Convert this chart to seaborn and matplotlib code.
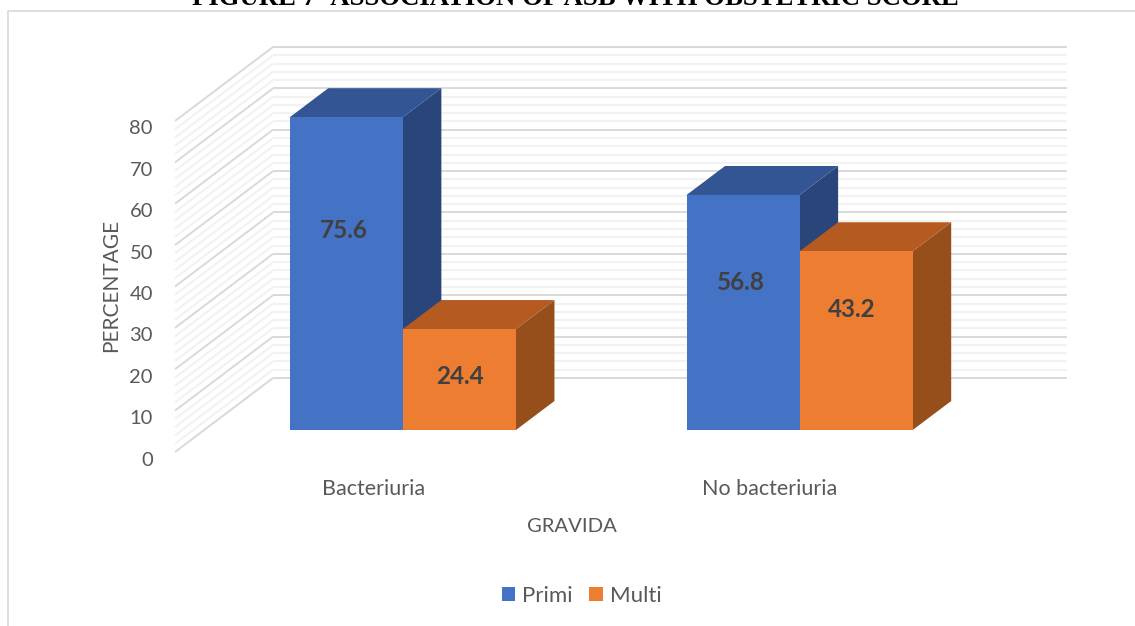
import matplotlib
matplotlib.use("Agg")
import matplotlib.pyplot as plt
import matplotlib.transforms as mtransforms
from matplotlib.patches import Polygon
import numpy as np
import pandas as pd
import seaborn as sns

# values
categories = ["Bacteriuria", "No bacteriuria"]
primi = [75.6, 56.8]
multi = [24.4, 43.2]
series_names = ["Primi", "Multi"]
y_ticks = [0, 10, 20, 30, 40, 50, 60, 70, 80]

front_colors = ["#4472C4", "#ED7D31"]
top_colors = ["#335593", "#B55A20"]
side_colors = ["#2A4579", "#964F1B"]

W, H = 1135, 626

sns.set_theme(style="white")
plt.rcParams["font.family"] = ["Lato", "DejaVu Sans"]

df = pd.DataFrame({
    "category": categories * 2,
    "series": [series_names[0]] * 2 + [series_names[1]] * 2,
    "value": primi + multi,
})

fig = plt.figure(figsize=(W / 100, H / 100), dpi=100)
fig.patch.set_facecolor("white")

# front plane of the bars, in pixels of the picture
left, right, bottom, top = 204.5, 998, 430, 99
ax = fig.add_axes([left / W, 1 - bottom / H, (right - left) / W, (bottom - top) / H])
ax.patch.set_alpha(0)

sns.barplot(data=df, x="category", y="value", hue="series", hue_order=series_names,
            order=categories, palette=front_colors, saturation=1, width=0.57, gap=0,
            linewidth=0, ax=ax, zorder=5)
ax.set_xlim(-0.5, 1.5)
ax.set_ylim(0, 80)
sns.despine(ax=ax, left=True, bottom=True)

px_x = (right - left) / 2
px_y = (bottom - top) / 80

# side wall and back wall grid
x0, x1 = ax.get_xlim()
for v in range(0, 81, 2):
    major = v % 10 == 0
    color = "#D9D9D9" if major else "#F2F2F2"
    lw = 1.4 if major else 1.5
    wall_x = [x0 - 29.5 / px_x, x0 + 68.5 / px_x]
    wall_y = [v - 22 / px_y, v + 52 / px_y]
    ax.plot(wall_x, wall_y, color=color, lw=lw, clip_on=False, zorder=1 + major * 0.5,
            solid_capstyle="butt")
    ax.plot([x0 + 68.5 / px_x, x1 + 68.5 / px_x], [v + 52 / px_y] * 2, color=color, lw=lw,
            clip_on=False, zorder=1 + major * 0.5, solid_capstyle="butt")

# depth of the bars
depth_x = 38.5 / px_x
depth_y = 29 / px_y
for i, cont in enumerate(ax.containers):
    for bar in cont:
        a = bar.get_x()
        b = a + bar.get_width()
        h = bar.get_height()
        side = Polygon([(b, 0), (b, h), (b + depth_x, h + depth_y), (b + depth_x, depth_y)],
                       closed=True, fc=side_colors[i], ec="none", clip_on=False, zorder=3 + i)
        roof = Polygon([(a, h), (b, h), (b + depth_x, h + depth_y), (a + depth_x, h + depth_y)],
                       closed=True, fc=top_colors[i], ec="none", clip_on=False, zorder=3 + i)
        ax.add_patch(side)
        ax.add_patch(roof)

# data labels sit off-centre in the reference, offsets in pixels
label_shift = [[(-3, 43), (-2, 30)], [(1, 3), (-4, 31)]]
for i, cont in enumerate(ax.containers):
    for j, bar in enumerate(cont):
        ax.annotate(f"{bar.get_height():.1f}",
                    (bar.get_x() + bar.get_width() / 2, bar.get_height() / 2),
                    xytext=label_shift[i][j], textcoords="offset pixels",
                    ha="center", va="center", fontsize=17.5, fontweight="bold",
                    color="#404040", zorder=8)

# ticks
ax.set_yticks(y_ticks)
ax.set_xticks([0, 1])
ax.set_xticklabels(categories)
ax.tick_params(axis="both", length=0, pad=0)
for lab in ax.get_yticklabels():
    lab.set_fontsize(14.5)
    lab.set_color("#595959")
    lab.set_transform(lab.get_transform() + mtransforms.Affine2D().translate(-51.5, -28.5))
for lab in ax.get_xticklabels():
    lab.set_fontsize(15.5)
    lab.set_color("#595959")
    lab.set_transform(lab.get_transform() + mtransforms.Affine2D().translate(-29.5, -49))

ax.set_xlabel("GRAVIDA", fontsize=14.6, color="#595959")
ax.set_ylabel("PERCENTAGE", fontsize=15, color="#595959")
ax.xaxis.set_label_coords(571.5 / W, 1 - 527 / H, transform=fig.transFigure)
ax.yaxis.set_label_coords(111 / W, 1 - 285 / H, transform=fig.transFigure)
ax.xaxis.label.set_va("center")
ax.yaxis.label.set_va("center")

sns.move_legend(ax, "center", bbox_to_anchor=(581.5 / W, 1 - 596 / H),
                bbox_transform=fig.transFigure, ncol=2, frameon=False, title=None,
                fontsize=16, handlelength=0.62, handleheight=0.62, handletextpad=0.3,
                columnspacing=0.75, labelcolor="#595959")

# outer frame of the chart
fig.add_artist(plt.Line2D([8 / W, 8 / W, 1], [0, 1 - 11 / H, 1 - 11 / H], color="#D9D9D9",
                          lw=1.2, transform=fig.transFigure))

fig.text(575 / W, 1 - 5 / H, "FIGURE 7- ASSOCIATION OF ASB WITH OBSTETRIC SCORE",
         family="Liberation Serif", fontweight="bold", fontsize=19.3, color="black",
         ha="center", va="baseline")

fig.savefig("out.png", dpi=100, facecolor="white")
